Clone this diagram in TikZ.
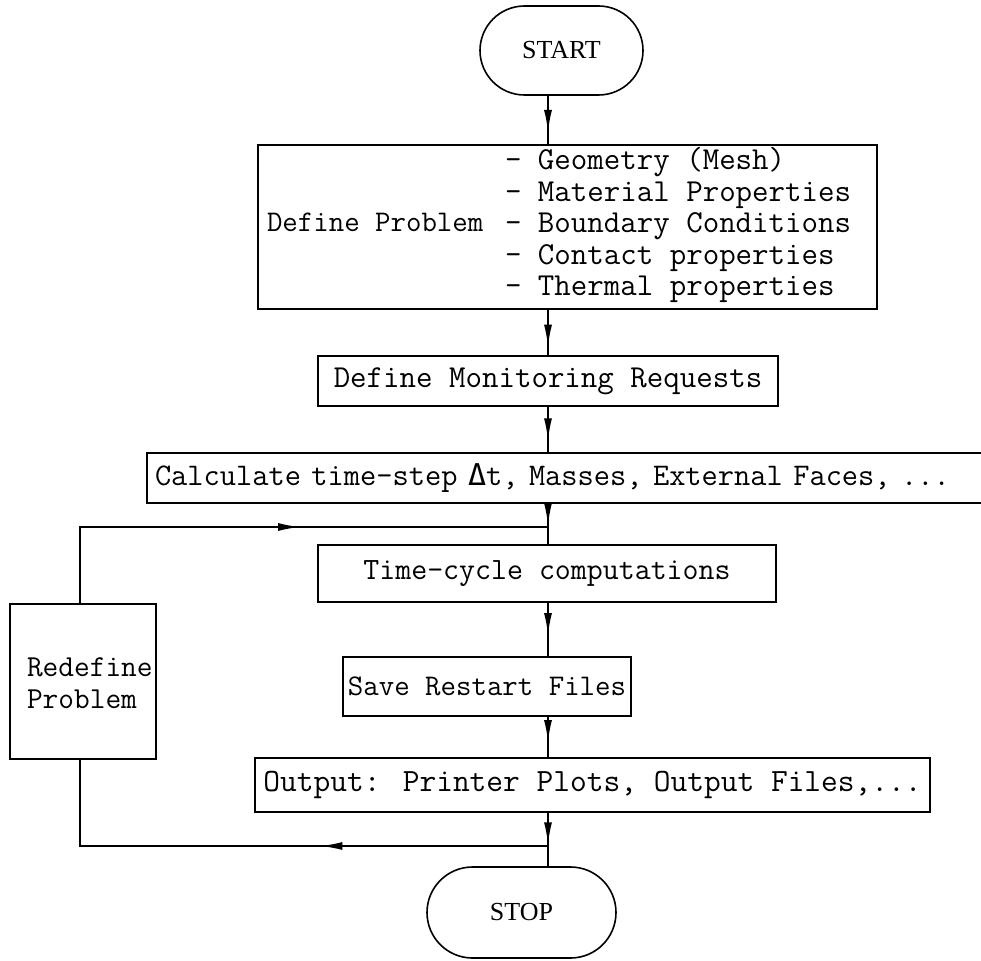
\documentclass[tikz,border=0pt]{standalone}
\usepackage{fontspec}
\setmainfont{Liberation Serif}
\newfontfamily\dvmono{DejaVu Sans Mono}
\usetikzlibrary{shapes.misc,arrows.meta,decorations.markings}

% typewriter text at a given size
\newcommand{\typed}[1]{\ttfamily\fontsize{#1}{31.5}\selectfont}

\tikzset{
  wire/.style={line width=1.6pt},
  flowbox/.style={draw, line width=1.6pt, rectangle, inner sep=0pt, outer sep=0pt},
  plain/.style={inner sep=0pt, outer sep=0pt},
  term/.style={draw, line width=1.6pt, rounded rectangle, inner sep=0pt, outer sep=0pt,
    font=\fontsize{26}{30}\selectfont},
  arrowat/.style={wire, postaction={decorate},
    decoration={markings, mark=at position #1 with {\arrow{Latex[length=22pt,width=8pt]}}}},
}

\begin{document}
\begin{tikzpicture}[x=1pt,y=-1pt]
\useasboundingbox (0,0) rectangle (981,960);

% main flow line and loop line positions
\coordinate (spine) at (548,0);
\coordinate (loopx) at (80,0);
\coordinate (j1) at (548,527);
\coordinate (j2) at (548,846);

% terminals
\node[term, minimum width=163pt, minimum height=89pt] (start) at (561.5,50.5) {START};
\node[term, minimum width=189pt, minimum height=91pt] (stop) at (521.5,912.5) {STOP};

% problem definition
\node[flowbox, minimum width=619pt, minimum height=164pt] (define) at (567.5,227) {};
\node[plain, anchor=west, font=\typed{30}] (defname) at (267,222) {Define Problem};
\node[plain, anchor=west, align=left, font=\typed{32}] (deflist) at (505,225)
  {- Geometry (Mesh)\\- Material Properties\\- Boundary Conditions\\- Contact properties\\- Thermal properties};

\node[flowbox, minimum width=460pt, minimum height=50pt, font=\typed{32}] (monitor) at (548,381)
  {Define Monitoring Requests};

% box running past the right edge
\node[flowbox, minimum width=853pt, minimum height=50pt, text width=837pt, align=left, font=\typed{31.5}]
  (calc) at (573.5,478) {Calculate time-step {\dvmono\fontsize{30}{31.5}\selectfont Δ}t, Masses, External Faces, ...};

\node[flowbox, minimum width=458pt, minimum height=57pt, font=\typed{31}] (timecyc) at (547,573.5)
  {Time-cycle computations};
\node[flowbox, minimum width=288pt, minimum height=59pt, font=\typed{30}] (save) at (487,686.5)
  {Save Restart Files};
\node[flowbox, minimum width=675pt, minimum height=54pt, font=\typed{32.5}] (output) at (592.5,785)
  {Output: Printer Plots, Output Files,...};

\node[flowbox, minimum width=146pt, minimum height=155pt] (redef) at (83,681.5) {};
\node[plain, anchor=west, align=left, font=\typed{30.5}] (redeftext) at (27,683) {Redefine\\Problem};

% connectors
\draw[arrowat=0.74] (start.south -| spine) -- (define.north -| spine);
\draw[arrowat=0.8] (define.south -| spine) -- (monitor.north -| spine);
\draw[arrowat=0.73] (monitor.south -| spine) -- (calc.north -| spine);
\draw[arrowat=0.92] (calc.south -| spine) -- (j1);
\draw[wire] (j1) -- (timecyc.north -| spine);
\draw[arrowat=0.6] (timecyc.south -| spine) -- (save.north -| spine);
\draw[arrowat=0.62] (save.south -| spine) -- (output.north -| spine);
\draw[arrowat=0.95] (output.south -| spine) -- (j2);
\draw[wire] (j2) -- (stop.north -| spine);
\draw[arrowat=0.41] (j2) -| (redef.south -| loopx);
\draw[arrowat=0.545] (redef.north -| loopx) |- (j1);
\end{tikzpicture}
\end{document}
